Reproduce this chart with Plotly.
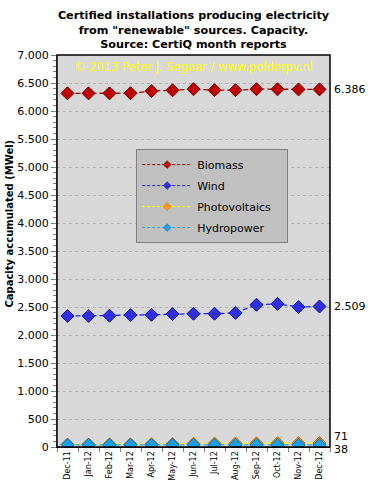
import plotly.graph_objects as go

months = ["Dec-11", "Jan-12", "Feb-12", "Mar-12", "Apr-12", "May-12", "Jun-12",
          "Jul-12", "Aug-12", "Sep-12", "Oct-12", "Nov-12", "Dec-12"]
biomass = [6315, 6315, 6315, 6318, 6355, 6370, 6390, 6372, 6372, 6390, 6388, 6386, 6386]
wind = [2339, 2340, 2345, 2355, 2360, 2375, 2380, 2380, 2395, 2540, 2555, 2500, 2509]
pv = [44, 45, 46, 47, 49, 52, 58, 62, 64, 66, 68, 70, 71]
hydro = [38, 38, 38, 38, 38, 38, 38, 38, 38, 38, 38, 38, 38]

series = [
    ("Biomass", biomass, "#a00000", "#c00000", "#700000"),
    ("Wind", wind, "#2020ff", "#3030e0", "#1010a0"),
    ("Photovoltaics", pv, "#ffff00", "#ff9900", "#cc6600"),
    ("Hydropower", hydro, "#30a0e0", "#1aa0e8", "#1070b0"),
]

FONT = "DejaVu Sans"
fig = go.Figure()
for name, vals, lc, mc, oc in series:
    fig.add_trace(go.Scatter(
        x=months, y=vals, name=name, mode="lines+markers", showlegend=False,
        line=dict(color=lc, width=1.3, dash="5px,3px"),
        marker=dict(symbol="diamond", size=10, color=mc, line=dict(color=oc, width=1)),
    ))
# legend entries (small markers like the reference legend)
for name, vals, lc, mc, oc in series:
    fig.add_trace(go.Scatter(
        x=[None], y=[None], name=name + "   ", mode="lines+markers", showlegend=True,
        legendgroup=name,
        line=dict(color=lc, width=1, dash="3px,2px"),
        marker=dict(symbol="diamond", size=6, color=mc, line=dict(color=oc, width=0.5)),
    ))

# end-value labels
for name, vals, lc, mc, oc in series:
    shift = 0
    if name == "Photovoltaics":
        shift = 7
    if name == "Hydropower":
        shift = -5
    fig.add_annotation(x=1, xref="paper", xanchor="left", xshift=2,
                       y=vals[-1], yref="y", yshift=shift,
                       text=f"{vals[-1]:,}".replace(",", "."),
                       showarrow=False, font=dict(family=FONT, size=11, color="black"))

fig.add_annotation(x=0.5, xref="paper", y=1, yref="paper", yanchor="top", yshift=-3,
                   text="© 2013 Peter J. Segaar / www.polderpv.nl", showarrow=False,
                   font=dict(family=FONT, size=11.5, color="#ffff00"))

# y-axis title
fig.add_annotation(x=0, xref="paper", xanchor="center", xshift=-47,
                   y=0.57, yref="paper", yanchor="middle", textangle=-90,
                   text="<b>Capacity accumulated (MWel)</b>", showarrow=False,
                   font=dict(family=FONT, size=10, color="black"))

fig.update_layout(
    width=370, height=501,
    margin=dict(l=57, r=40, t=55, b=54, autoexpand=False),
    paper_bgcolor="white", plot_bgcolor="#d8d8d8",
    separators=",.",
    font=dict(family=FONT, size=11, color="black"),
    title=dict(text="Certified installations producing electricity<br>from \"renewable\" sources. Capacity.<br>Source: CertiQ month reports",
               x=0.5, xref="paper", xanchor="center", y=1 - 19 / 501, yref="container", yanchor="top",
               font=dict(family=FONT, size=11.2, color="black", weight="bold")),
    showlegend=True,
    legend=dict(x=0.29, y=0.76, xanchor="left", yanchor="top",
                bgcolor="#c0c0c0", bordercolor="#808080", borderwidth=1,
                font=dict(family=FONT, size=11, color="black"),
                tracegroupgap=2, itemwidth=50),
    xaxis=dict(type="category", range=[-0.5, 12.5], tickangle=-90, automargin=False,
               tickfont=dict(family=FONT, size=8), showgrid=False,
               showline=True, linecolor="black", linewidth=1, mirror=False,
               ticks="outside", ticklen=4, tickcolor="#808080", tickson="boundaries"),
    yaxis=dict(range=[0, 7000], dtick=500, tickformat=",d", automargin=False,
               showgrid=True, gridcolor="#b0b0b0", griddash="dot", gridwidth=1,
               ticks="outside", ticklen=5, tickcolor="#808080",
               minor=dict(dtick=100, ticks="outside", ticklen=3, tickcolor="#808080", showgrid=False),
               showline=True, linecolor="#808080", zeroline=False),
)
fig.add_shape(type="rect", xref="paper", yref="paper", x0=0, x1=1, y0=0, y1=1,
              line=dict(color="black", width=1.5), fillcolor="rgba(0,0,0,0)", layer="above")

fig.write_html("out.html", config={"displayModeBar": False},
               post_script="document.body.style.margin='0';document.body.style.padding='0';")
